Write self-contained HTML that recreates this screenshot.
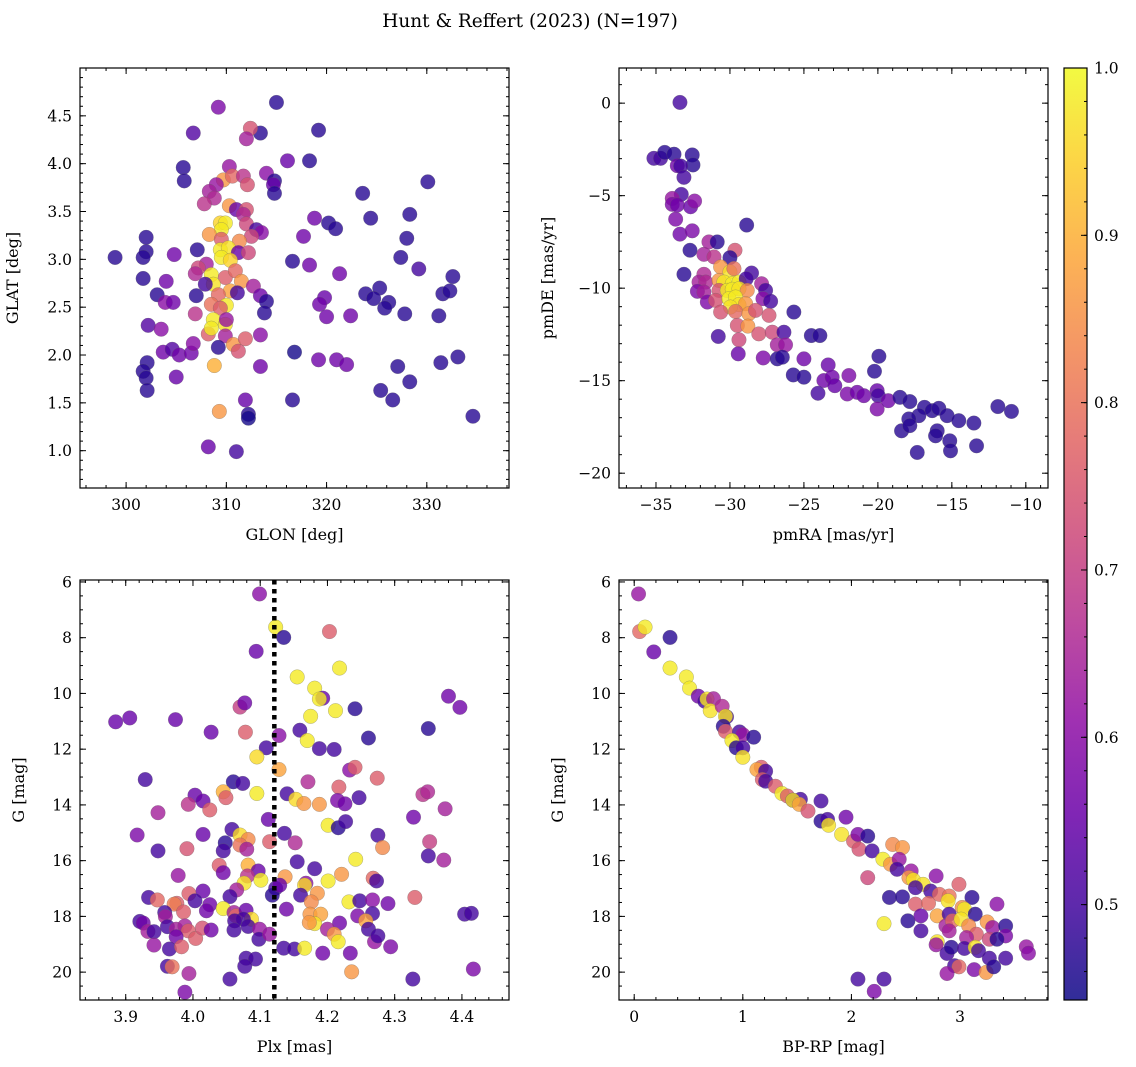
<!DOCTYPE html>
<html><head><meta charset="utf-8"><style>
html,body{margin:0;padding:0;background:#fff;}
svg{display:block;font-family:"DejaVu Serif","Liberation Serif",serif;}
</style></head><body>
<svg id="fig" width="1136" height="1067" viewBox="0 0 1136 1067" xmlns="http://www.w3.org/2000/svg">
<text x="530" y="27" text-anchor="middle" font-size="18.5">Hunt &amp; Reffert (2023) (N=197)</text>
</svg>
<script>
// ---- data: [x, y, membership probability] ----
const skyPts = [[298.9,3.02,.47],[302.0,3.23,.47],[302.0,3.08,.47],[301.7,3.02,.47],[304.8,3.05,.56],[307.1,3.10,.47],[301.7,2.80,.47],[304.0,2.77,.56],[303.1,2.63,.47],[303.9,2.55,.6],[304.7,2.55,.56],[307.0,2.62,.47],[302.2,2.31,.52],[303.5,2.27,.6],[303.7,2.03,.56],[304.6,2.06,.52],[305.3,2.00,.56],[306.5,2.02,.56],[306.7,2.12,.6],[302.1,1.92,.47],[301.7,1.83,.47],[302.0,1.76,.47],[302.1,1.63,.47],[305.0,1.77,.55],[305.7,3.96,.47],[305.8,3.82,.47],[306.7,4.32,.52],[309.2,4.59,.58],[315.0,4.64,.47],[313.4,4.32,.47],[312.4,4.37,.74],[312.0,4.26,.64],[319.2,4.35,.47],[316.1,4.03,.55],[318.3,4.03,.47],[310.3,3.97,.62],[309.7,3.83,.86],[310.6,3.87,.78],[311.7,3.87,.68],[312.1,3.78,.74],[309.0,3.78,.62],[308.3,3.71,.64],[308.8,3.64,.66],[307.8,3.58,.68],[314.0,3.90,.6],[314.8,3.82,.47],[314.7,3.78,.55],[314.8,3.69,.47],[310.3,3.56,.86],[311.0,3.52,.55],[312.0,3.52,.74],[311.7,3.47,.66],[312.0,3.37,.72],[313.0,3.31,.5],[313.5,3.28,.6],[312.5,3.24,.72],[309.4,3.38,.95],[309.9,3.38,.98],[309.5,3.31,.98],[308.3,3.26,.86],[309.5,3.21,.76],[311.3,3.19,.84],[309.4,3.10,.98],[310.2,3.12,.97],[311.2,3.07,.55],[312.2,3.07,.72],[309.5,3.02,.98],[310.4,2.99,.95],[308.0,2.95,.64],[307.2,2.91,.72],[306.9,2.85,.66],[308.5,2.84,.98],[309.9,2.81,.76],[310.9,2.88,.78],[311.5,2.77,.86],[308.7,2.74,.97],[307.9,2.74,.5],[310.4,2.67,.88],[309.2,2.63,.78],[311.1,2.65,.5],[312.7,2.72,.64],[313.4,2.62,.56],[314.0,2.56,.47],[313.8,2.44,.47],[308.5,2.53,.8],[310.0,2.52,.98],[309.4,2.49,.76],[306.9,2.43,.68],[308.7,2.37,.98],[309.9,2.32,.97],[310.0,2.37,.62],[308.2,2.22,.76],[308.5,2.28,.98],[309.9,2.20,.64],[310.7,2.11,.86],[311.2,2.04,.74],[311.9,2.17,.76],[313.4,2.21,.6],[309.2,2.08,.47],[308.8,1.89,.9],[313.4,1.88,.56],[316.8,2.03,.45],[316.6,2.98,.47],[318.3,2.94,.56],[317.7,3.24,.56],[318.8,3.43,.56],[320.2,3.38,.47],[320.9,3.32,.47],[321.3,2.85,.56],[319.8,2.60,.55],[319.3,2.53,.56],[320.0,2.40,.56],[322.4,2.41,.56],[319.2,1.95,.56],[321.0,1.95,.56],[322.0,1.90,.56],[323.6,3.69,.47],[324.4,3.43,.47],[328.3,3.47,.47],[330.1,3.81,.47],[328.0,3.22,.47],[327.4,3.02,.47],[329.2,2.90,.5],[332.6,2.82,.47],[325.3,2.70,.47],[323.9,2.64,.47],[324.7,2.59,.47],[326.2,2.55,.47],[325.8,2.49,.47],[327.8,2.43,.47],[331.6,2.64,.47],[332.3,2.67,.47],[331.2,2.41,.47],[331.4,1.92,.47],[333.1,1.98,.47],[327.1,1.88,.47],[328.3,1.72,.47],[325.4,1.63,.47],[326.6,1.53,.47],[316.6,1.53,.47],[311.9,1.53,.55],[312.2,1.38,.47],[312.2,1.34,.45],[309.3,1.41,.86],[308.2,1.04,.55],[311.0,0.99,.5],[334.6,1.36,.47]];
const pmPts = [[-33.38,0.04,.5],[-35.14,-2.98,.5],[-34.69,-2.98,.5],[-34.41,-2.66,.47],[-33.78,-2.76,.47],[-32.55,-2.80,.47],[-32.50,-3.34,.47],[-33.56,-3.38,.56],[-33.33,-3.40,.5],[-33.11,-4.01,.5],[-33.29,-4.93,.5],[-33.90,-5.15,.62],[-33.90,-5.47,.58],[-33.56,-5.51,.56],[-32.66,-5.60,.55],[-32.39,-5.29,.6],[-33.67,-6.27,.58],[-33.38,-7.08,.56],[-32.55,-6.90,.58],[-28.87,-6.59,.47],[-32.70,-7.95,.47],[-31.42,-7.50,.64],[-30.86,-7.50,.47],[-29.66,-7.95,.74],[-30.00,-8.35,.47],[-31.76,-8.17,.64],[-31.08,-8.31,.68],[-33.11,-9.25,.47],[-31.76,-9.25,.66],[-30.63,-8.85,.86],[-30.00,-9.12,.97],[-29.73,-8.94,.8],[-28.54,-9.18,.5],[-32.09,-9.67,.64],[-31.64,-9.67,.66],[-30.74,-9.58,.86],[-30.41,-9.67,.98],[-29.84,-9.76,.98],[-29.39,-9.67,.98],[-28.90,-9.49,.5],[-27.86,-9.76,.64],[-27.59,-10.12,.5],[-32.20,-10.17,.58],[-31.76,-10.21,.64],[-30.74,-10.12,.74],[-30.18,-10.12,.98],[-29.84,-10.06,.98],[-29.39,-10.03,.97],[-28.83,-10.12,.84],[-27.77,-10.57,.6],[-27.25,-10.71,.5],[-31.53,-10.75,.58],[-30.97,-10.66,.74],[-30.07,-10.57,.98],[-29.62,-10.48,.98],[-29.39,-10.89,.97],[-29.97,-11.02,.97],[-28.94,-10.84,.86],[-30.63,-11.29,.74],[-29.62,-11.26,.78],[-28.72,-11.38,.86],[-28.27,-11.20,.74],[-27.36,-11.47,.74],[-25.68,-11.29,.47],[-29.50,-12.01,.74],[-28.79,-12.05,.86],[-28.05,-12.47,.74],[-27.14,-12.38,.72],[-26.35,-12.38,.5],[-30.79,-12.61,.5],[-29.39,-12.79,.72],[-26.80,-13.06,.64],[-26.24,-13.06,.62],[-24.50,-12.56,.47],[-23.92,-12.56,.47],[-29.44,-13.55,.55],[-27.75,-13.77,.58],[-26.80,-13.82,.47],[-26.46,-13.73,.47],[-25.00,-13.82,.56],[-25.72,-14.69,.47],[-25.00,-14.81,.47],[-23.36,-14.15,.55],[-23.65,-14.99,.56],[-23.09,-14.81,.56],[-22.91,-15.27,.55],[-24.05,-15.68,.5],[-21.96,-14.72,.58],[-22.07,-15.72,.58],[-21.40,-15.63,.56],[-20.95,-15.81,.56],[-19.93,-13.68,.47],[-20.23,-14.49,.47],[-20.05,-15.54,.55],[-19.98,-15.81,.5],[-20.05,-16.53,.58],[-19.30,-16.08,.56],[-18.51,-15.90,.47],[-17.84,-16.13,.47],[-16.85,-16.44,.47],[-16.33,-16.62,.47],[-15.88,-16.49,.47],[-17.23,-16.89,.47],[-17.91,-17.07,.47],[-18.40,-17.71,.47],[-17.84,-17.43,.47],[-15.32,-16.89,.47],[-14.53,-17.16,.47],[-13.51,-17.29,.47],[-15.99,-17.71,.47],[-16.10,-17.98,.47],[-15.14,-18.25,.47],[-17.34,-18.88,.47],[-15.09,-18.79,.47],[-13.33,-18.52,.47],[-11.89,-16.40,.47],[-10.97,-16.66,.47]];
const plxPts = [[4.099,6.43,.6],[4.123,7.62,.98],[4.135,7.99,.47],[4.203,7.78,.76],[4.094,8.49,.55],[4.218,9.09,.98],[4.155,9.41,.98],[4.181,9.81,.98],[4.193,10.17,.55],[4.188,10.20,.98],[4.212,10.62,.98],[4.241,10.55,.47],[4.175,10.82,.98],[4.380,10.10,.56],[4.397,10.50,.56],[4.350,11.26,.47],[3.885,11.02,.55],[3.906,10.88,.55],[3.974,10.94,.55],[4.027,11.39,.55],[4.070,10.49,.7],[4.077,10.34,.56],[4.078,11.39,.76],[4.128,11.51,.6],[4.159,11.32,.5],[4.170,11.69,.98],[4.188,11.98,.5],[4.210,12.01,.5],[4.261,11.60,.47],[4.109,11.95,.5],[4.095,12.28,.96],[4.128,12.73,.88],[4.233,12.75,.6],[4.241,12.65,.76],[4.274,13.04,.76],[4.171,13.17,.66],[4.217,13.36,.76],[3.929,13.09,.5],[4.060,13.17,.47],[4.074,13.23,.5],[4.045,13.53,.9],[4.049,13.74,.76],[4.003,13.65,.55],[4.015,13.86,.55],[3.993,13.98,.68],[4.025,14.18,.76],[3.948,14.28,.64],[4.095,13.59,.98],[4.140,13.60,.5],[4.153,13.80,.96],[4.165,13.95,.86],[4.188,13.98,.86],[4.215,13.84,.58],[4.226,13.96,.56],[4.247,13.74,.5],[4.342,13.63,.68],[4.349,13.53,.66],[4.375,14.14,.64],[4.328,14.44,.56],[4.112,14.52,.55],[4.201,14.73,.98],[4.216,14.82,.47],[4.227,14.60,.5],[3.917,15.08,.58],[4.015,15.06,.55],[4.058,14.88,.5],[4.070,15.08,.96],[4.082,15.24,.84],[4.070,15.44,.8],[4.048,15.36,.47],[4.045,15.65,.5],[4.080,15.59,.64],[4.114,15.32,.76],[4.136,15.02,.5],[4.152,15.36,.66],[3.948,15.65,.5],[3.991,15.57,.74],[4.275,15.09,.5],[4.282,15.53,.84],[4.352,15.32,.7],[4.350,15.83,.5],[4.373,15.98,.64],[4.242,15.95,.98],[4.155,16.04,.5],[4.039,16.17,.76],[4.045,16.43,.56],[4.082,16.16,.9],[4.097,16.37,.55],[3.978,16.53,.62],[4.181,16.29,.5],[4.137,16.58,.86],[4.221,16.49,.86],[4.201,16.73,.98],[4.268,16.63,.78],[4.273,16.73,.5],[4.081,16.55,.68],[4.101,16.70,.98],[4.076,16.81,.97],[4.168,16.81,.6],[4.166,16.88,.96],[4.065,17.05,.64],[4.123,16.99,.5],[4.118,17.24,.47],[4.129,16.88,.55],[4.185,17.17,.86],[4.160,17.24,.5],[3.934,17.32,.5],[3.947,17.41,.78],[3.994,17.18,.76],[4.015,17.09,.55],[4.055,17.29,.5],[4.003,17.44,.5],[3.976,17.53,.76],[3.972,17.56,.82],[4.025,17.58,.56],[4.020,17.80,.56],[3.986,17.84,.76],[3.958,17.86,.5],[3.959,18.01,.64],[4.045,17.72,.98],[4.061,17.86,.64],[4.064,17.98,.78],[4.079,17.78,.55],[4.087,18.10,.96],[4.075,18.10,.5],[4.062,18.16,.5],[4.139,17.74,.56],[4.176,17.48,.84],[4.232,17.48,.98],[4.248,17.44,.5],[4.267,17.41,.6],[4.290,17.54,.56],[4.330,17.32,.76],[4.174,17.92,.86],[4.190,17.92,.88],[4.181,18.26,.97],[4.173,18.22,.86],[4.245,17.98,.58],[4.267,17.90,.5],[4.257,18.16,.88],[4.261,18.46,.5],[4.218,18.24,.56],[4.404,17.92,.5],[4.414,17.89,.5],[3.921,18.18,.5],[3.926,18.24,.56],[3.933,18.54,.64],[3.942,18.55,.5],[3.962,18.37,.5],[3.975,18.46,.64],[3.988,18.34,.64],[3.993,18.52,.76],[3.975,18.73,.56],[4.004,18.79,.76],[4.014,18.42,.74],[4.027,18.49,.56],[3.942,19.03,.62],[3.965,19.17,.5],[3.983,19.09,.76],[4.061,18.49,.5],[4.082,18.36,.5],[4.099,18.46,.62],[4.098,18.82,.5],[4.114,18.64,.62],[4.200,18.46,.64],[4.210,18.64,.86],[4.216,18.91,.98],[4.270,18.91,.62],[4.275,18.70,.5],[4.294,19.09,.58],[4.135,19.14,.5],[4.151,19.17,.5],[4.166,19.14,.98],[4.193,19.32,.56],[4.234,19.32,.56],[4.079,19.50,.5],[4.093,19.53,.5],[4.077,19.79,.5],[3.962,19.79,.5],[3.969,19.81,.8],[3.994,20.05,.64],[4.055,20.25,.5],[3.988,20.72,.58],[4.236,19.99,.86],[4.327,20.25,.5],[4.417,19.89,.58]];
const cmdPts = [[0.04,6.43,.62],[0.05,7.78,.78],[0.10,7.62,.98],[0.33,7.99,.47],[0.18,8.51,.55],[0.33,9.09,.98],[0.48,9.41,.98],[0.51,9.81,.98],[0.59,10.10,.56],[0.65,10.28,.5],[0.67,10.20,.97],[0.73,10.19,.64],[0.70,10.62,.97],[0.81,10.46,.66],[0.85,10.84,.5],[0.84,10.82,.97],[0.82,11.18,.47],[0.84,11.36,.76],[0.97,11.38,.5],[1.00,11.48,.62],[0.90,11.69,.98],[0.94,11.95,.47],[1.00,11.95,.5],[1.00,12.29,.97],[1.10,11.57,.47],[1.17,12.65,.76],[1.13,12.73,.88],[1.21,12.79,.5],[1.18,13.09,.76],[1.21,13.15,.5],[1.30,13.33,.76],[1.36,13.59,.98],[1.41,13.68,.76],[1.46,13.83,.5],[1.53,13.80,.5],[1.46,13.83,.97],[1.52,13.98,.88],[1.60,14.22,.74],[1.72,13.86,.5],[1.72,14.58,.47],[1.78,14.52,.5],[1.79,14.73,.97],[1.95,14.44,.56],[1.91,15.06,.97],[2.02,15.30,.76],[2.06,15.06,.58],[2.15,15.12,.47],[2.07,15.59,.74],[2.19,15.65,.5],[2.38,15.42,.84],[2.47,15.53,.86],[2.29,15.95,.98],[2.36,16.13,.86],[2.44,15.95,.62],[2.42,16.31,.5],[2.15,16.61,.72],[2.55,16.37,.62],[2.53,16.61,.86],[2.57,16.69,.97],[2.66,16.85,.97],[2.59,16.97,.5],[2.78,16.55,.6],[2.73,17.09,.5],[2.35,17.32,.47],[2.47,17.30,.47],[2.59,17.56,.76],[2.71,17.53,.78],[2.81,17.21,.78],[2.90,17.27,.8],[2.99,16.85,.76],[2.89,17.44,.97],[3.11,17.32,.47],[3.34,17.56,.6],[3.02,17.68,.84],[3.04,17.74,.98],[3.14,17.92,.47],[2.79,17.98,.88],[2.90,17.92,.5],[2.52,18.16,.47],[2.64,17.98,.55],[2.30,18.26,.98],[2.64,18.52,.5],[2.87,18.34,.64],[2.93,18.16,.78],[3.01,18.10,.97],[3.08,18.34,.84],[3.15,18.64,.76],[3.25,18.20,.86],[3.30,18.40,.62],[3.42,18.34,.47],[3.42,18.70,.58],[3.27,18.82,.72],[2.90,18.52,.64],[3.06,18.76,.64],[2.79,18.91,.97],[2.78,19.02,.62],[2.88,19.33,.5],[2.92,19.11,.47],[3.04,19.15,.5],[3.14,19.11,.97],[3.17,19.23,.5],[3.27,19.50,.5],[3.42,19.50,.5],[3.34,18.82,.47],[2.95,19.77,.5],[2.99,19.81,.78],[3.13,19.91,.58],[3.24,20.01,.86],[3.31,19.81,.47],[2.88,20.05,.62],[3.61,19.09,.62],[3.63,19.32,.6],[2.06,20.25,.5],[2.30,20.25,.5],[2.21,20.69,.58]];
const clusterPlx = [4.121];
const cbarTicks = [0.5, 0.6, 0.7, 0.8, 0.9, 1.0];
const cbarRange = [0.443, 1.0];

// ---- plasma colormap ----
const plasma = ['#0d0887','#41049d','#6a00a8','#8f0da4','#b12a90','#cc4778','#e16462','#f2844b','#fca636','#fcce25','#f0f921'];
function hex(h){return [1,3,5].map(i=>parseInt(h.substr(i,2),16));}
function cmap(p){
  let t=(p-cbarRange[0])/(cbarRange[1]-cbarRange[0]); t=Math.max(0,Math.min(1,t));
  const f=t*10, i=Math.min(9,Math.floor(f)), u=f-i;
  const a=hex(plasma[i]), b=hex(plasma[i+1]);
  return 'rgb('+a.map((v,k)=>Math.round(v+(b[k]-v)*u)).join(',')+')';
}
const NS='http://www.w3.org/2000/svg';
const svg=document.getElementById('fig');
function el(tag,attrs,parent){const e=document.createElementNS(NS,tag);for(const k in attrs)e.setAttribute(k,attrs[k]);(parent||svg).appendChild(e);return e;}
function lin(d0,d1,r0,r1){return v=>r0+(v-d0)*(r1-r0)/(d1-d0);}
function fmt(v,dec){return v.toFixed(dec).replace('-','\u2212');}

function panel(cfg){
  const g=el('g',{});
  
  
  const X=lin(cfg.xd[0],cfg.xd[1],cfg.L,cfg.R), Y=lin(cfg.yd[0],cfg.yd[1],cfg.B,cfg.T);
  const pg=el('g',{},g);
  
  
  cfg.pts.forEach(p=>{
    const c=el('circle',{cx:X(p[0]),cy:Y(p[1]),r:7.3,fill:cmap(p[2]),'fill-opacity':0.8,stroke:'#666','stroke-opacity':0.5,'stroke-width':0.5},pg);
    
    
  });
  if(cfg.extra) cfg.extra(g,X,Y);
  const fr=el('rect',{x:cfg.L,y:cfg.T,width:cfg.R-cfg.L,height:cfg.B-cfg.T,fill:'none',stroke:'#000','stroke-width':1.2},g);
  
  
  const eps=1e-9;
  function ticks(lo,hi,step){const a=[];const s=Math.ceil(Math.min(lo,hi)/step-eps);for(let k=s;k*step<=Math.max(lo,hi)+eps;k++)a.push(+(k*step).toFixed(6));return a;}
  ticks(cfg.xd[0],cfg.xd[1],cfg.xminor).forEach(v=>{const x=X(v);el('line',{x1:x,x2:x,y1:cfg.B,y2:cfg.B-3,stroke:'#000'},g);el('line',{x1:x,x2:x,y1:cfg.T,y2:cfg.T+3,stroke:'#000'},g);});
  ticks(cfg.yd[0],cfg.yd[1],cfg.yminor).forEach(v=>{const y=Y(v);el('line',{x1:cfg.L,x2:cfg.L+3,y1:y,y2:y,stroke:'#000'},g);el('line',{x1:cfg.R,x2:cfg.R-3,y1:y,y2:y,stroke:'#000'},g);});
  cfg.xticks.forEach(v=>{const x=X(v);el('line',{x1:x,x2:x,y1:cfg.B,y2:cfg.B-6,stroke:'#000'},g);el('line',{x1:x,x2:x,y1:cfg.T,y2:cfg.T+6,stroke:'#000'},g);
    const t=el('text',{x:x,y:cfg.B+22,'text-anchor':'middle','font-size':15.5},g);t.textContent=fmt(v,cfg.xdec);
    
    });
  cfg.yticks.forEach(v=>{const y=Y(v);el('line',{x1:cfg.L,x2:cfg.L+6,y1:y,y2:y,stroke:'#000'},g);el('line',{x1:cfg.R,x2:cfg.R-6,y1:y,y2:y,stroke:'#000'},g);
    const t=el('text',{x:cfg.L-8,y:y+5.5,'text-anchor':'end','font-size':15.5},g);t.textContent=fmt(v,cfg.ydec);
    
    });
  const xl=el('text',{x:(cfg.L+cfg.R)/2,y:cfg.B+52,'text-anchor':'middle','font-size':16},g);xl.textContent=cfg.xlabel;
  
  
  const yl=el('text',{x:0,y:0,'text-anchor':'middle','font-size':16,transform:'translate('+(cfg.L-cfg.ylo)+','+((cfg.T+cfg.B)/2)+') rotate(-90)'},g);yl.textContent=cfg.ylabel;
  
  
}

panel({name:'sky-panel',L:80,R:509,T:68,B:488,xd:[295.4,338.2],yd:[0.61,5.0],pts:skyPts,
  xticks:[300,310,320,330],xminor:2,xdec:0,yticks:[1,1.5,2,2.5,3,3.5,4,4.5],yminor:0.1,ydec:1,xlabel:'GLON [deg]',ylabel:'GLAT [deg]',ylo:62});
panel({name:'proper-motion-panel',L:619,R:1048,T:68,B:488,xd:[-37.5,-8.5],yd:[-20.8,1.9],pts:pmPts,
  xticks:[-35,-30,-25,-20,-15,-10],xminor:1,xdec:0,yticks:[0,-5,-10,-15,-20],yminor:1,ydec:0,xlabel:'pmRA [mas/yr]',ylabel:'pmDE [mas/yr]',ylo:66});
panel({name:'parallax-panel',L:80,R:509,T:580,B:1000,xd:[3.832,4.47],yd:[21,5.93],pts:plxPts,
  xticks:[3.9,4.0,4.1,4.2,4.3,4.4],xminor:0.02,xdec:1,yticks:[6,8,10,12,14,16,18,20],yminor:0.5,ydec:0,xlabel:'Plx [mas]',ylabel:'G [mag]',ylo:56,
  extra:(g,X,Y)=>{clusterPlx.forEach(v=>{const l=el('line',{x1:X(v),x2:X(v),y1:580,y2:1000,stroke:'#000','stroke-width':4.5,'stroke-dasharray':'4.5,4.5'},g);
    
    });}});
panel({name:'cmd-panel',L:619,R:1048,T:580,B:1000,xd:[-0.14,3.81],yd:[21,5.93],pts:cmdPts,
  xticks:[0,1,2,3],xminor:0.2,xdec:0,yticks:[6,8,10,12,14,16,18,20],yminor:0.5,ydec:0,xlabel:'BP-RP [mag]',ylabel:'G [mag]',ylo:56});

// ---- colorbar ----
(function(){
  const L=1064,R=1087,T=68,B=1000;
  const g=el('g',{});
  
  
  const defs=el('defs',{},g);
  const lg=el('linearGradient',{id:'cbg',x1:0,y1:1,x2:0,y2:0},defs);
  for(let i=0;i<=20;i++){const p=cbarRange[0]+(cbarRange[1]-cbarRange[0])*i/20;el('stop',{offset:i/20,'stop-color':cmap(p),'stop-opacity':0.85},lg);}
  el('rect',{x:L,y:T,width:R-L,height:B-T,fill:'url(#cbg)',stroke:'#000','stroke-width':1.2},g);
  const Y=lin(cbarRange[0],cbarRange[1],B,T);
  for(let v=0.46;v<1.0;v+=0.02){const y=Y(v);el('line',{x1:R,x2:R-3,y1:y,y2:y,stroke:'#000'},g);}
  cbarTicks.forEach(v=>{const y=Y(v);el('line',{x1:R,x2:R-6,y1:y,y2:y,stroke:'#000'},g);
    const t=el('text',{x:R+7,y:y+5.5,'font-size':15.5},g);t.textContent=v.toFixed(1);
    
    });
})();
</script>
</body></html>
